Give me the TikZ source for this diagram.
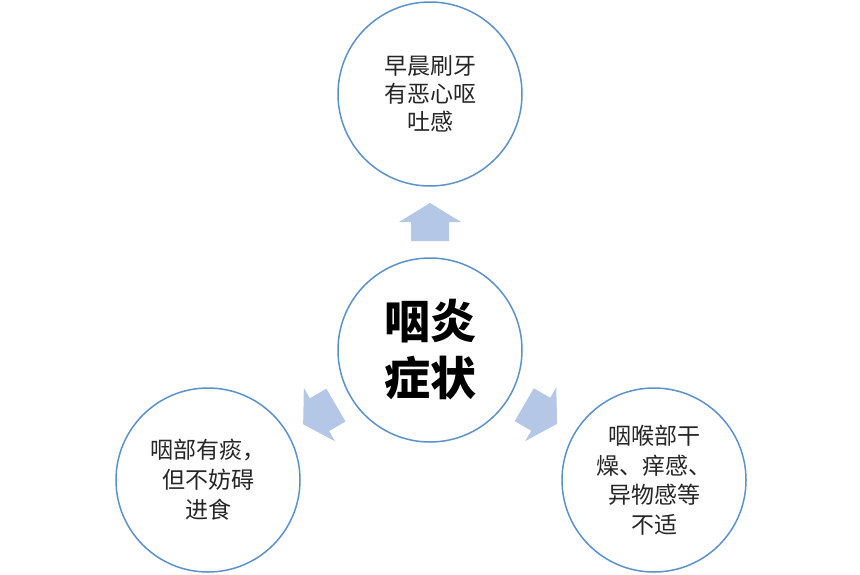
\documentclass[tikz,border=0pt]{standalone}
\usepackage{fontspec}
\newfontfamily\cjk{Noto Sans CJK SC}
\usetikzlibrary{calc}
\definecolor{ring}{RGB}{91,146,204}
\definecolor{arr}{RGB}{180,199,231}
\tikzset{
  circ/.style={circle,draw=ring,line width=1.5pt,minimum size=184pt,inner sep=0pt,align=center,text=black!85},
  small/.style={font=\cjk\fontsize{23}{#1}\selectfont},
  big/.style={font=\cjk\bfseries\fontsize{46}{57}\selectfont,text=black},
  barrow/.pic={\fill[arr] (-19,-19) -- (0,-19) -- (0,-31) -- (19,0) -- (0,31) -- (0,19) -- (-19,19) -- cycle;}
}
\begin{document}
\begin{tikzpicture}[x=1pt,y=-1pt]
\useasboundingbox (0,0) rectangle (860,574);
\fill[white] (0,0) rectangle (860,574);
\node[circ,big] (c) at (430,350) {咽炎\\症状};
\node[circ,small=28] (t) at (430,94) {早晨刷牙\\有恶心呕\\吐感};
\node[circ,small=30] (l) at (208,480) {咽部有痰，\\但不妨碍\\进食};
\node[circ,small=29.5] (r) at (654,480) {咽喉部干\\燥、痒感、\\异物感等\\不适};
\pic[rotate=90] at ($(c)!128pt!(t)$) {barrow};
\pic[rotate=210.4] at ($(c)!128pt!(l)$) {barrow};
\pic[rotate=-30.1] at ($(c)!128pt!(r)$) {barrow};
\end{tikzpicture}
\end{document}
